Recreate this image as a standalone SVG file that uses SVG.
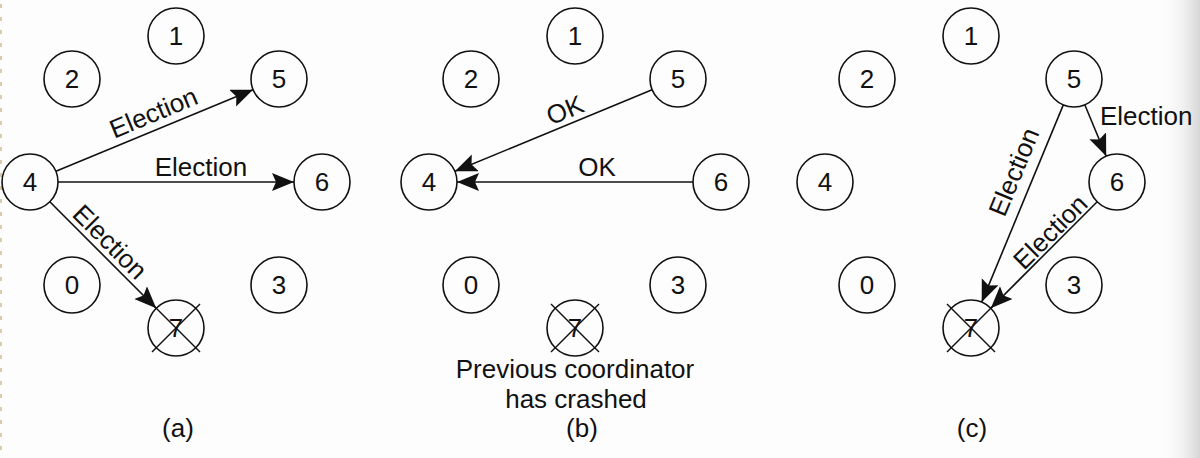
<svg xmlns="http://www.w3.org/2000/svg" width="1200" height="458" viewBox="0 0 1200 458">
<style>
.n circle{fill:none;stroke:#111;stroke-width:1.6}
.n text,.lbl{font-family:"Liberation Sans",Arial,sans-serif;font-size:26px;fill:#111}
.n text{text-anchor:middle}
.x{stroke:#111;stroke-width:1.5}
.e{fill:none;stroke:#111;stroke-width:1.6;marker-end:url(#ah)}
.m{text-anchor:middle}
</style>
<defs>
<marker id="ah" markerUnits="userSpaceOnUse" markerWidth="26" markerHeight="20" refX="22" refY="9" orient="auto">
<path d="M0,0 L22,9 L0,18 L4,9 Z" fill="#111"/>
</marker>
<linearGradient id="edge" x1="0" y1="0" x2="1" y2="0">
<stop offset="0" stop-color="#fdfdfd" stop-opacity="0"/>
<stop offset="1" stop-color="#d6d6d6"/>
</linearGradient>
</defs>
<rect width="1200" height="458" fill="#fdfdfd"/>
<rect x="1160" y="0" width="40" height="458" fill="url(#edge)"/>
<line x1="1" y1="4" x2="1" y2="458" stroke="#cbbd8c" stroke-width="1.5" stroke-dasharray="4,9"/>

<!-- panel a -->
<g id="a-n1" class="n"><circle cx="176" cy="36" r="28"/><text x="176" y="45">1</text></g>
<g id="a-n2" class="n"><circle cx="72" cy="79" r="28"/><text x="72" y="88">2</text></g>
<g id="a-n5" class="n"><circle cx="279" cy="79" r="28"/><text x="279" y="88">5</text></g>
<g id="a-n4" class="n"><circle cx="30" cy="182" r="28"/><text x="30" y="191">4</text></g>
<g id="a-n6" class="n"><circle cx="322" cy="182" r="28"/><text x="322" y="191">6</text></g>
<g id="a-n0" class="n"><circle cx="72" cy="285" r="28"/><text x="72" y="294">0</text></g>
<g id="a-n3" class="n"><circle cx="279" cy="285" r="28"/><text x="279" y="294">3</text></g>
<g id="a-n7" class="n"><circle cx="176" cy="328" r="28"/><text x="176" y="337">7</text><line class="x" x1="152" y1="304" x2="200" y2="352"/><line class="x" x1="200" y1="304" x2="152" y2="352"/></g>

<!-- panel b -->
<g id="b-n1" class="n"><circle cx="575" cy="36" r="28"/><text x="575" y="45">1</text></g>
<g id="b-n2" class="n"><circle cx="471" cy="79" r="28"/><text x="471" y="88">2</text></g>
<g id="b-n5" class="n"><circle cx="678" cy="79" r="28"/><text x="678" y="88">5</text></g>
<g id="b-n4" class="n"><circle cx="429" cy="182" r="28"/><text x="429" y="191">4</text></g>
<g id="b-n6" class="n"><circle cx="721" cy="182" r="28"/><text x="721" y="191">6</text></g>
<g id="b-n0" class="n"><circle cx="471" cy="285" r="28"/><text x="471" y="294">0</text></g>
<g id="b-n3" class="n"><circle cx="678" cy="285" r="28"/><text x="678" y="294">3</text></g>
<g id="b-n7" class="n"><circle cx="575" cy="328" r="28"/><text x="575" y="337">7</text><line class="x" x1="551" y1="304" x2="599" y2="352"/><line class="x" x1="599" y1="304" x2="551" y2="352"/></g>

<!-- panel c -->
<g id="c-n1" class="n"><circle cx="971" cy="36" r="28"/><text x="971" y="45">1</text></g>
<g id="c-n2" class="n"><circle cx="867" cy="79" r="28"/><text x="867" y="88">2</text></g>
<g id="c-n5" class="n"><circle cx="1074" cy="79" r="28"/><text x="1074" y="88">5</text></g>
<g id="c-n4" class="n"><circle cx="825" cy="182" r="28"/><text x="825" y="191">4</text></g>
<g id="c-n6" class="n"><circle cx="1117" cy="182" r="28"/><text x="1117" y="191">6</text></g>
<g id="c-n0" class="n"><circle cx="867" cy="285" r="28"/><text x="867" y="294">0</text></g>
<g id="c-n3" class="n"><circle cx="1074" cy="285" r="28"/><text x="1074" y="294">3</text></g>
<g id="c-n7" class="n"><circle cx="971" cy="328" r="28"/><text x="971" y="337">7</text><line class="x" x1="947" y1="304" x2="995" y2="352"/><line class="x" x1="995" y1="304" x2="947" y2="352"/></g>

<g id="connectors">
<path class="e" d="M55.9,171.3 L253,89.7"/>
<path class="e" d="M58,182 L294,182"/>
<path class="e" d="M49.8,201.8 L156.2,308.2"/>
<path class="e" d="M652.1,89.7 L454.9,171.3"/>
<path class="e" d="M693,182 L457,182"/>
<path class="e" d="M1084.8,104.8 L1106.2,156.2"/>
<path class="e" d="M1063.3,104.9 L981.7,302.1"/>
<path class="e" d="M1097.2,201.8 L990.8,308.2"/>
</g>

<g id="labels">
<text class="lbl m" transform="translate(157,121) rotate(-22.5)">Election</text>
<text class="lbl m" x="201" y="176">Election</text>
<text class="lbl m" transform="translate(103.6,248.2) rotate(45)">Election</text>
<text class="lbl m" transform="translate(568.4,118.3) rotate(-22.5)">OK</text>
<text class="lbl m" x="597" y="176">OK</text>
<text class="lbl" x="1100" y="125">Election</text>
<text class="lbl m" transform="translate(1022.2,175.3) rotate(-67.5)">Election</text>
<text class="lbl m" transform="translate(1056.6,238.2) rotate(-45)">Election</text>
<text class="lbl m" x="575" y="378">Previous coordinator</text>
<text class="lbl m" x="576" y="408">has crashed</text>
<text class="lbl m" x="178" y="437">(a)</text>
<text class="lbl m" x="582" y="437">(b)</text>
<text class="lbl m" x="972" y="437">(c)</text>
</g>
</svg>
